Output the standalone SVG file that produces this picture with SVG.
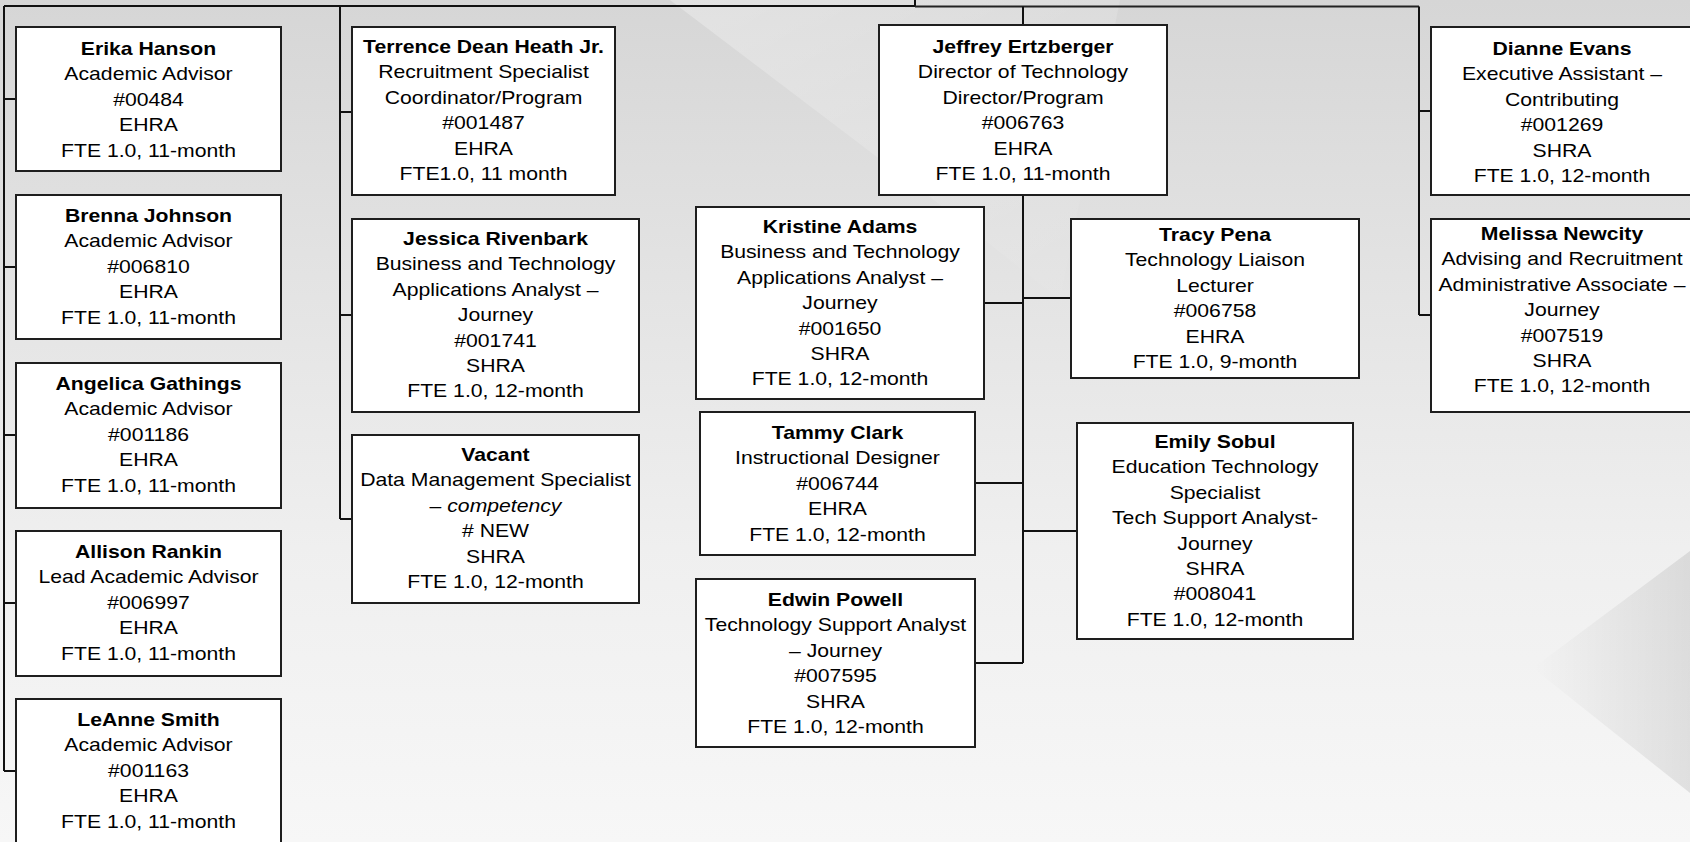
<svg xmlns="http://www.w3.org/2000/svg" width="1690" height="842" viewBox="0 0 1690 842">
<defs>
<linearGradient id="bg" x1="0" y1="0" x2="0" y2="1">
<stop offset="0" stop-color="#d6d6d6"/>
<stop offset="0.3" stop-color="#e2e2e2"/>
<stop offset="0.65" stop-color="#efefef"/>
<stop offset="1" stop-color="#f7f7f7"/>
</linearGradient>
<linearGradient id="wedge" x1="0" y1="0" x2="1" y2="0">
<stop offset="0" stop-color="#000" stop-opacity="0"/>
<stop offset="1" stop-color="#000" stop-opacity="0.09"/>
</linearGradient>
<linearGradient id="ray" x1="0" y1="0" x2="1" y2="1">
<stop offset="0" stop-color="#fff" stop-opacity="0.3"/>
<stop offset="1" stop-color="#fff" stop-opacity="0"/>
</linearGradient>
<style>
.box{fill:#fff;stroke:#1e1e1e;stroke-width:2}
.ln{fill:none;stroke:#111;stroke-width:2}
.ln2{fill:none;stroke:#222;stroke-width:1.8}
.t{font-family:"Liberation Sans",Arial,Helvetica,sans-serif;font-size:19px;fill:#000;text-anchor:middle}
.b{font-weight:bold}
.i{font-style:italic}
</style>
</defs>
<rect x="0" y="0" width="1690" height="842" fill="url(#bg)"/>
<polygon points="670,0 1120,0 1060,300 943,207" fill="url(#ray)"/>
<polygon points="1533,668 1690,551 1690,793" fill="url(#wedge)"/>

<g id="connectors">
<path class="ln" d="M4,6 H915 V0"/>
<path class="ln2" d="M915,6.5 H1419"/>
<path class="ln" d="M4,6 V771"/>
<path class="ln" d="M4,99 H16 M4,267 H16 M4,435 H16 M4,603 H16 M4,771 H16"/>
<path class="ln" d="M340,6 V519 M340,112 H352 M340,315 H352 M340,519 H352"/>
<path class="ln" d="M1023,6.5 V25 M1023,195 V663"/>
<path class="ln" d="M984,303 H1023 M1023,298 H1071 M975,483 H1023 M1023,531 H1077 M975,663 H1023"/>
<path class="ln" d="M1419,6.5 V315 M1419,111 H1431 M1419,315 H1431"/>
</g>

<g id="erika"><rect class="box" x="16" y="27" width="265" height="144"/>
<g transform="translate(148.5 0) scale(1.115 1)"><text class="t" y="55"><tspan x="0" class="b">Erika Hanson</tspan><tspan x="0" dy="25.4">Academic Advisor</tspan><tspan x="0" dy="25.4">#00484</tspan><tspan x="0" dy="25.4">EHRA</tspan><tspan x="0" dy="25.4">FTE 1.0, 11-month</tspan></text></g></g>

<g id="brenna"><rect class="box" x="16" y="195" width="265" height="144"/>
<g transform="translate(148.5 0) scale(1.115 1)"><text class="t" y="222"><tspan x="0" class="b">Brenna Johnson</tspan><tspan x="0" dy="25.4">Academic Advisor</tspan><tspan x="0" dy="25.4">#006810</tspan><tspan x="0" dy="25.4">EHRA</tspan><tspan x="0" dy="25.4">FTE 1.0, 11-month</tspan></text></g></g>

<g id="angelica"><rect class="box" x="16" y="363" width="265" height="145"/>
<g transform="translate(148.5 0) scale(1.115 1)"><text class="t" y="390"><tspan x="0" class="b">Angelica Gathings</tspan><tspan x="0" dy="25.4">Academic Advisor</tspan><tspan x="0" dy="25.4">#001186</tspan><tspan x="0" dy="25.4">EHRA</tspan><tspan x="0" dy="25.4">FTE 1.0, 11-month</tspan></text></g></g>

<g id="allison"><rect class="box" x="16" y="531" width="265" height="145"/>
<g transform="translate(148.5 0) scale(1.115 1)"><text class="t" y="558"><tspan x="0" class="b">Allison Rankin</tspan><tspan x="0" dy="25.4">Lead Academic Advisor</tspan><tspan x="0" dy="25.4">#006997</tspan><tspan x="0" dy="25.4">EHRA</tspan><tspan x="0" dy="25.4">FTE 1.0, 11-month</tspan></text></g></g>

<g id="leanne"><rect class="box" x="16" y="699" width="265" height="150"/>
<g transform="translate(148.5 0) scale(1.115 1)"><text class="t" y="726"><tspan x="0" class="b">LeAnne Smith</tspan><tspan x="0" dy="25.4">Academic Advisor</tspan><tspan x="0" dy="25.4">#001163</tspan><tspan x="0" dy="25.4">EHRA</tspan><tspan x="0" dy="25.4">FTE 1.0, 11-month</tspan></text></g></g>

<g id="terrence"><rect class="box" x="352" y="27" width="263" height="168"/>
<g transform="translate(483.5 0) scale(1.115 1)"><text class="t" y="53"><tspan x="0" class="b">Terrence Dean Heath Jr.</tspan><tspan x="0" dy="25.4">Recruitment Specialist</tspan><tspan x="0" dy="25.4">Coordinator/Program</tspan><tspan x="0" dy="25.4">#001487</tspan><tspan x="0" dy="25.4">EHRA</tspan><tspan x="0" dy="25.4">FTE1.0, 11 month</tspan></text></g></g>

<g id="jessica"><rect class="box" x="352" y="219" width="287" height="193"/>
<g transform="translate(495.5 0) scale(1.115 1)"><text class="t" y="245"><tspan x="0" class="b">Jessica Rivenbark</tspan><tspan x="0" dy="25.4">Business and Technology</tspan><tspan x="0" dy="25.4">Applications Analyst –</tspan><tspan x="0" dy="25.4">Journey</tspan><tspan x="0" dy="25.4">#001741</tspan><tspan x="0" dy="25.4">SHRA</tspan><tspan x="0" dy="25.4">FTE 1.0, 12-month</tspan></text></g></g>

<g id="vacant"><rect class="box" x="352" y="435" width="287" height="168"/>
<g transform="translate(495.5 0) scale(1.115 1)"><text class="t" y="461"><tspan x="0" class="b">Vacant</tspan><tspan x="0" dy="25.4">Data Management Specialist</tspan><tspan x="0" dy="25.4">– <tspan class="i">competency</tspan></tspan><tspan x="0" dy="25.4"># NEW</tspan><tspan x="0" dy="25.4">SHRA</tspan><tspan x="0" dy="25.4">FTE 1.0, 12-month</tspan></text></g></g>

<g id="jeffrey"><rect class="box" x="879" y="25" width="288" height="170"/>
<g transform="translate(1023 0) scale(1.115 1)"><text class="t" y="53"><tspan x="0" class="b">Jeffrey Ertzberger</tspan><tspan x="0" dy="25.4">Director of Technology</tspan><tspan x="0" dy="25.4">Director/Program</tspan><tspan x="0" dy="25.4">#006763</tspan><tspan x="0" dy="25.4">EHRA</tspan><tspan x="0" dy="25.4">FTE 1.0, 11-month</tspan></text></g></g>

<g id="kristine"><rect class="box" x="696" y="207" width="288" height="192"/>
<g transform="translate(840 0) scale(1.115 1)"><text class="t" y="233"><tspan x="0" class="b">Kristine Adams</tspan><tspan x="0" dy="25.4">Business and Technology</tspan><tspan x="0" dy="25.4">Applications Analyst –</tspan><tspan x="0" dy="25.4">Journey</tspan><tspan x="0" dy="25.4">#001650</tspan><tspan x="0" dy="25.4">SHRA</tspan><tspan x="0" dy="25.4">FTE 1.0, 12-month</tspan></text></g></g>

<g id="tracy"><rect class="box" x="1071" y="219" width="288" height="159"/>
<g transform="translate(1215 0) scale(1.115 1)"><text class="t" y="241"><tspan x="0" class="b">Tracy Pena</tspan><tspan x="0" dy="25.4">Technology Liaison</tspan><tspan x="0" dy="25.4">Lecturer</tspan><tspan x="0" dy="25.4">#006758</tspan><tspan x="0" dy="25.4">EHRA</tspan><tspan x="0" dy="25.4">FTE 1.0, 9-month</tspan></text></g></g>

<g id="tammy"><rect class="box" x="700" y="412" width="275" height="143"/>
<g transform="translate(837.5 0) scale(1.115 1)"><text class="t" y="439"><tspan x="0" class="b">Tammy Clark</tspan><tspan x="0" dy="25.4">Instructional Designer</tspan><tspan x="0" dy="25.4">#006744</tspan><tspan x="0" dy="25.4">EHRA</tspan><tspan x="0" dy="25.4">FTE 1.0, 12-month</tspan></text></g></g>

<g id="emily"><rect class="box" x="1077" y="423" width="276" height="216"/>
<g transform="translate(1215 0) scale(1.115 1)"><text class="t" y="448"><tspan x="0" class="b">Emily Sobul</tspan><tspan x="0" dy="25.4">Education Technology</tspan><tspan x="0" dy="25.4">Specialist</tspan><tspan x="0" dy="25.4">Tech Support Analyst-</tspan><tspan x="0" dy="25.4">Journey</tspan><tspan x="0" dy="25.4">SHRA</tspan><tspan x="0" dy="25.4">#008041</tspan><tspan x="0" dy="25.4">FTE 1.0, 12-month</tspan></text></g></g>

<g id="edwin"><rect class="box" x="696" y="579" width="279" height="168"/>
<g transform="translate(835.5 0) scale(1.115 1)"><text class="t" y="606"><tspan x="0" class="b">Edwin Powell</tspan><tspan x="0" dy="25.4">Technology Support Analyst</tspan><tspan x="0" dy="25.4">– Journey</tspan><tspan x="0" dy="25.4">#007595</tspan><tspan x="0" dy="25.4">SHRA</tspan><tspan x="0" dy="25.4">FTE 1.0, 12-month</tspan></text></g></g>

<g id="dianne"><rect class="box" x="1431" y="27" width="262" height="168"/>
<g transform="translate(1562 0) scale(1.115 1)"><text class="t" y="55"><tspan x="0" class="b">Dianne Evans</tspan><tspan x="0" dy="25.4">Executive Assistant –</tspan><tspan x="0" dy="25.4">Contributing</tspan><tspan x="0" dy="25.4">#001269</tspan><tspan x="0" dy="25.4">SHRA</tspan><tspan x="0" dy="25.4">FTE 1.0, 12-month</tspan></text></g></g>

<g id="melissa"><rect class="box" x="1431" y="219" width="262" height="193"/>
<g transform="translate(1562 0) scale(1.115 1)"><text class="t" y="240"><tspan x="0" class="b">Melissa Newcity</tspan><tspan x="0" dy="25.4">Advising and Recruitment</tspan><tspan x="0" dy="25.4">Administrative Associate –</tspan><tspan x="0" dy="25.4">Journey</tspan><tspan x="0" dy="25.4">#007519</tspan><tspan x="0" dy="25.4">SHRA</tspan><tspan x="0" dy="25.4">FTE 1.0, 12-month</tspan></text></g></g>
</svg>
